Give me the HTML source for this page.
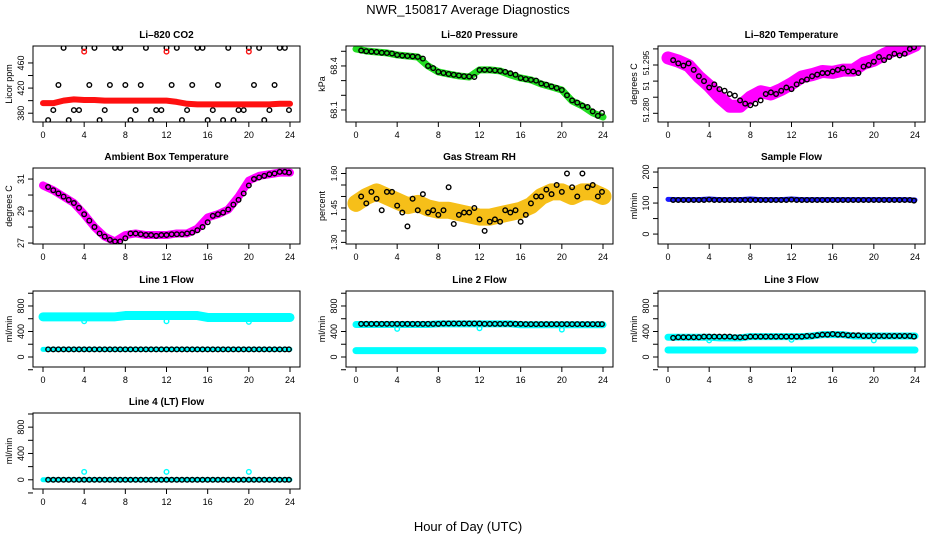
<!DOCTYPE html>
<html><head><meta charset="utf-8"><style>
html,body{margin:0;padding:0;background:#fff;}
svg{display:block;font-family:"Liberation Sans",Arial,sans-serif;}
</style></head><body>
<svg id="chart" width="936" height="540" viewBox="0 0 936 540">
<text x="468" y="14" text-anchor="middle" font-size="13">NWR_150817  Average Diagnostics</text>
<text x="468" y="531" text-anchor="middle" font-size="13">Hour of Day (UTC)</text>
</svg>
<script>
// ---- data ----
const bandHours = [0,1,2,3,4,5,6,7,8,9,10,11,12,13,14,15,16,17,18,19,20,21,22,23,24];
const ptHours = [0.5,1,1.5,2,2.5,3,3.5,4,4.5,5,5.5,6,6.5,7,7.5,8,8.5,9,9.5,10,10.5,11,11.5,12,12.5,13,13.5,14,14.5,15,15.5,16,16.5,17,17.5,18,18.5,19,19.5,20,20.5,21,21.5,22,22.5,23,23.5,23.9];
const spikeHours = [4,12,20];

const co2Band = [396,396,400,402,401,401,400,400,400,400,400,400,400,398,395,394,394,394,394,394,394,394,394,395,395];
const co2Pts = [369,385,425,484,369,385,385,484,425,484,369,385,425,484,484,425,369,385,425,484,369,385,385,484,425,484,369,385,425,484,484,369,385,425,369,484,369,385,385,484,425,484,369,385,425,484,484,385];
const co2Spikes = [478,478,478];

const presBand = [68.516,68.502,68.495,68.489,68.475,68.468,68.461,68.40,68.359,68.345,68.332,68.325,68.373,68.373,68.366,68.339,68.318,68.305,68.277,68.257,68.236,68.161,68.127,68.080,68.052];
const presPts = [68.505,68.50,68.498,68.495,68.49,68.488,68.485,68.475,68.47,68.468,68.465,68.462,68.45,68.40,68.385,68.36,68.352,68.345,68.34,68.335,68.33,68.328,68.325,68.372,68.373,68.372,68.37,68.366,68.36,68.35,68.34,68.318,68.31,68.305,68.30,68.28,68.272,68.26,68.25,68.236,68.20,68.165,68.15,68.13,68.12,68.09,68.06,68.08];

const tempBand = [51.2972,51.2962,51.2948,51.2913,51.2885,51.2850,51.2822,51.2822,51.2850,51.2867,51.2860,51.2874,51.2892,51.2913,51.2920,51.2930,51.2927,51.2934,51.2934,51.2955,51.2965,51.2983,51.2997,51.2997,51.3011];
const tempPts = [51.2965,51.2955,51.2948,51.2955,51.2935,51.2915,51.2900,51.2880,51.2890,51.2875,51.2870,51.2860,51.2855,51.2840,51.2830,51.2825,51.2830,51.2840,51.2860,51.2865,51.2860,51.2870,51.2880,51.2875,51.2890,51.2900,51.2905,51.2915,51.2920,51.2925,51.2925,51.2930,51.2935,51.2940,51.2930,51.2930,51.2925,51.2945,51.2950,51.2960,51.2975,51.2965,51.2975,51.2985,51.2980,51.2985,51.3000,51.3005];

const ambBand = [30.6,30.3,29.9,29.5,28.8,28.0,27.4,27.1,27.5,27.6,27.5,27.5,27.5,27.6,27.6,27.9,28.6,28.8,29.1,29.9,30.9,31.2,31.3,31.4,31.4];
const ambPts = [30.5,30.3,30.1,29.9,29.7,29.5,29.2,28.8,28.4,28.0,27.6,27.4,27.2,27.1,27.1,27.3,27.6,27.6,27.55,27.5,27.5,27.45,27.5,27.5,27.55,27.55,27.55,27.6,27.65,27.8,28.0,28.3,28.7,28.8,28.9,29.1,29.4,29.7,30.1,30.6,31.0,31.1,31.2,31.3,31.35,31.45,31.45,31.4];

const rhBand = [1.47,1.50,1.52,1.50,1.48,1.46,1.47,1.45,1.44,1.44,1.43,1.42,1.41,1.41,1.42,1.43,1.44,1.46,1.50,1.52,1.52,1.50,1.52,1.52,1.50];
const rhPts = [1.50,1.47,1.52,1.49,1.44,1.52,1.52,1.46,1.43,1.37,1.49,1.44,1.51,1.43,1.44,1.42,1.44,1.54,1.38,1.42,1.43,1.43,1.45,1.40,1.35,1.39,1.40,1.39,1.44,1.43,1.44,1.39,1.42,1.47,1.50,1.50,1.53,1.51,1.55,1.52,1.60,1.54,1.50,1.60,1.54,1.55,1.50,1.52];

const sampleBand = [112,111,111,111,113,111,111,111,113,111,111,111,113,111,111,111,111,111,111,111,111,111,111,111,110];
const samplePts = [110,110,110,110,110,110,110,111,110,110,110,110,110,110,110,110,110,110,110,110,110,110,110,111,110,110,110,110,110,110,110,110,110,110,110,110,110,110,110,110,110,110,110,110,110,110,110,108];

const line1High = [630,630,630,630,630,630,630,630,650,650,650,650,650,650,650,650,620,620,620,620,620,620,620,620,620];
const line1Low = [120,120,120,120,120,120,120,120,120,120,120,120,120,120,120,120,120,120,120,120,120,120,120,120,120];
const line1Pts = [120,120,120,120,120,120,120,120,120,120,120,120,120,120,120,120,120,120,120,120,120,120,120,120,120,120,120,120,120,120,120,120,120,120,120,120,120,120,120,120,120,120,120,120,120,120,120,120];
const line1Dips = [560,560,550];

const line2High = [510,510,510,510,510,510,510,510,520,520,520,520,520,520,520,520,505,505,505,505,505,505,505,505,505];
const line2Low = [100,100,100,100,100,100,100,100,100,100,100,100,100,100,100,100,100,100,100,100,100,100,100,100,100];
const line2Pts = [520,520,520,520,520,520,520,520,520,520,520,520,520,520,520,520,525,525,525,525,525,525,525,525,520,520,520,520,520,520,520,520,515,515,515,515,515,515,515,515,515,515,515,515,515,515,515,515];
const line2Dips = [440,450,430];

const line3High = [310,310,310,310,310,300,300,300,320,320,320,320,320,320,330,350,350,350,330,330,330,330,330,330,330];
const line3Low = [110,110,110,110,110,110,110,110,110,110,110,110,110,110,110,110,110,110,110,110,110,110,110,110,110];
const line3Pts = [300,310,310,310,310,310,320,320,320,320,320,320,310,310,310,320,320,320,320,320,320,320,320,320,320,320,330,330,340,350,350,360,350,350,340,340,340,330,330,330,330,330,330,330,330,330,330,320];
const line3Dips = [260,270,260];

const line4Band = [0,0,0,0,0,0,0,0,0,0,0,0,0,0,0,0,0,0,0,0,0,0,0,0,0];
const line4Pts = [0,0,0,0,0,0,0,0,0,0,0,0,0,0,0,0,0,0,0,0,0,0,0,0,0,0,0,0,0,0,0,0,0,0,0,0,0,0,0,0,0,0,0,0,0,0,0,0];
const line4Spikes = [120,120,120];

const xTicks = [0,4,8,12,16,20,24];

// ---- drawing ----
const svg = document.getElementById('chart');
const NS = 'http://www.w3.org/2000/svg';
function mk(tag, attrs, parent){
  const e = document.createElementNS(NS, tag);
  for (const k in attrs) e.setAttribute(k, attrs[k]);
  (parent||svg).appendChild(e);
  return e;
}
const colLeft = [33,346,658], rowTop = [46,168,291,413], W = 267, H = 76;

function panel(col,row,name,title,ylab,vb,vt,ticks,labels,layers){
  const L = colLeft[col], T = rowTop[row];
  const g = mk('g',{});
  
  
  const xs = h => L + 10 + h/24*247;
  const ys = v => T + H - (v - vb)/(vt - vb)*H;
  const t = mk('text',{x:L+W/2,y:T-8,'text-anchor':'middle','font-size':'10','font-weight':'bold'},g);
  t.textContent = title;
  
  
  const yl = mk('text',{transform:`translate(${L-21},${T+H/2}) rotate(-90)`,'text-anchor':'middle','font-size':'9'},g);
  yl.textContent = ylab;
  
  
  const clip = mk('clipPath',{id:'c'+name},g);
  mk('rect',{x:L,y:T,width:W,height:H},clip);
  const plot = mk('g',{'clip-path':`url(#c${name})`},g);
  layers.forEach(ly=>{
    if (ly.type==='band'){
      const pts = ly.x.map((h,i)=>xs(h)+','+ys(ly.y[i])).join(' ');
      const pl = mk('polyline',{points:pts,fill:'none',stroke:ly.color,'stroke-width':ly.w,'stroke-linejoin':'round','stroke-linecap':'round',opacity:ly.op||1},plot);
      
      
    } else {
      ly.x.forEach((h,i)=>{
        const c = mk('circle',{cx:xs(h),cy:ys(ly.y[i]),r:ly.r||2.3,fill:'none',stroke:ly.color,'stroke-width':ly.sw||1.4},plot);
        
        
      });
    }
  });
  mk('rect',{x:L,y:T,width:W,height:H,fill:'none',stroke:'#000','stroke-width':1},g);
  ticks.forEach(v=>{
    const y = ys(v);
    mk('line',{x1:L-5,x2:L,y1:y,y2:y,stroke:'#000'},g);
  });
  labels.forEach(lb=>{
    const y = lb.y!==undefined ? lb.y : ys(lb.v);
    const tx = mk('text',{transform:`translate(${L-9},${y}) rotate(-90)`,'text-anchor':'middle','font-size':lb.fs||'9'},g);
    tx.textContent = lb.t;
    
    
  });
  xTicks.forEach(h=>{
    const x = xs(h);
    mk('line',{x1:x,x2:x,y1:T+H,y2:T+H+5,stroke:'#000'},g);
    const tx = mk('text',{x:x,y:T+H+16,'text-anchor':'middle','font-size':'9'},g);
    tx.textContent = h;
    
    
  });
  mk('line',{x1:xs(0),x2:xs(24),y1:T+H,y2:T+H,stroke:'#000'},g);
}

const flowTicks=[-200,0,200,400,600,800,1000];
const flowLabels=[{v:0,t:'0'},{v:400,t:'400'},{v:800,t:'800'}];

panel(0,0,'co2-panel','Li\u2013820 CO2','Licor ppm',366,487,[380,400,420,440,460],[{v:380,t:'380'},{v:420,t:'420'},{v:460,t:'460'}],[
  {type:'pts',x:ptHours,y:co2Pts,color:'#000'},
  {type:'band',x:bandHours,y:co2Band,color:'#ff1010',w:6},
  {type:'pts',x:spikeHours,y:co2Spikes,color:'#ff1010'}]);
panel(1,0,'pressure-panel','Li\u2013820 Pressure','kPa',68.018,68.536,[68.1,68.2,68.3,68.4,68.5],[{v:68.1,t:'68.1'},{v:68.4,t:'68.4'}],[
  {type:'band',x:bandHours,y:presBand,color:'#22dd22',w:7},
  {type:'pts',x:ptHours,y:presPts,color:'#000'}]);
panel(2,0,'temperature-panel','Li\u2013820 Temperature','degrees C',51.2773,51.3009,[51.280,51.285,51.290,51.295,51.300],[{y:110,t:'51.280',fs:'8'},{y:86,t:'51',fs:'8'},{y:63,t:'51.295',fs:'8'}],[
  {type:'band',x:bandHours,y:tempBand,color:'#ff00ff',w:13},
  {type:'pts',x:ptHours,y:tempPts,color:'#000'}]);
panel(0,1,'ambient-panel','Ambient Box Temperature','degrees C',26.94,31.69,[27,28,29,30,31],[{v:27,t:'27'},{v:29,t:'29'},{v:31,t:'31'}],[
  {type:'band',x:bandHours,y:ambBand,color:'#ff00ff',w:8},
  {type:'pts',x:ptHours,y:ambPts,color:'#000'}]);
panel(1,1,'rh-panel','Gas Stream RH','percent',1.293,1.624,[1.30,1.35,1.40,1.45,1.50,1.55,1.60],[{v:1.30,t:'1.30',fs:'8'},{v:1.45,t:'1.45',fs:'8'},{v:1.60,t:'1.60',fs:'8'}],[
  {type:'band',x:bandHours,y:rhBand,color:'#f5b800',w:17,op:0.9},
  {type:'pts',x:ptHours,y:rhPts,color:'#000'}]);
panel(2,1,'sample-flow-panel','Sample Flow','ml/min',-32,213,[0,50,100,150,200],[{v:0,t:'0'},{v:100,t:'100'},{v:200,t:'200'}],[
  {type:'band',x:bandHours,y:sampleBand,color:'#1a1aff',w:5},
  {type:'pts',x:ptHours,y:samplePts,color:'#000'}]);
panel(0,2,'line1-flow-panel','Line 1 Flow','ml/min',-157,1035,flowTicks,flowLabels,[
  {type:'band',x:bandHours,y:line1High,color:'#00ffff',w:9},
  {type:'band',x:bandHours,y:line1Low,color:'#00ffff',w:5},
  {type:'pts',x:spikeHours,y:line1Dips,color:'#00ffff'},
  {type:'pts',x:ptHours,y:line1Pts,color:'#000'}]);
panel(1,2,'line2-flow-panel','Line 2 Flow','ml/min',-157,1035,flowTicks,flowLabels,[
  {type:'band',x:bandHours,y:line2High,color:'#00ffff',w:7},
  {type:'band',x:bandHours,y:line2Low,color:'#00ffff',w:7},
  {type:'pts',x:spikeHours,y:line2Dips,color:'#00ffff'},
  {type:'pts',x:ptHours,y:line2Pts,color:'#000'}]);
panel(2,2,'line3-flow-panel','Line 3 Flow','ml/min',-157,1035,flowTicks,flowLabels,[
  {type:'band',x:bandHours,y:line3High,color:'#00ffff',w:7},
  {type:'band',x:bandHours,y:line3Low,color:'#00ffff',w:7},
  {type:'pts',x:spikeHours,y:line3Dips,color:'#00ffff'},
  {type:'pts',x:ptHours,y:line3Pts,color:'#000'}]);
panel(0,3,'line4-flow-panel','Line 4 (LT) Flow','ml/min',-140,1015,flowTicks,flowLabels,[
  {type:'band',x:bandHours,y:line4Band,color:'#00ffff',w:5},
  {type:'pts',x:spikeHours,y:line4Spikes,color:'#00ffff'},
  {type:'pts',x:ptHours,y:line4Pts,color:'#000'}]);
</script>
</body></html>
